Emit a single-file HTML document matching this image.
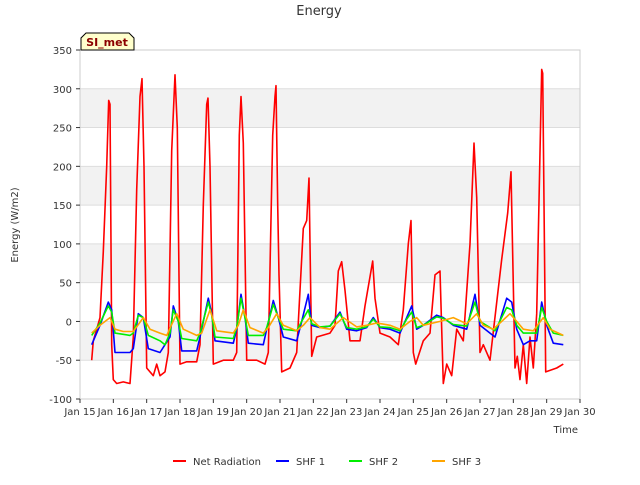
<!DOCTYPE html>
<html><head><meta charset="utf-8"><style>
body{margin:0;background:#fff;font-family:"Liberation Sans","DejaVu Sans",sans-serif}
svg text{font-family:"DejaVu Sans","Liberation Sans",sans-serif}
</style></head><body>
<svg id="chart" width="640" height="480" viewBox="0 0 640 480" xmlns="http://www.w3.org/2000/svg">
<rect x="0" y="0" width="640" height="480" fill="#fff"/>
<text x="319" y="15" text-anchor="middle" font-size="13" fill="#333">Energy</text>
<g id="bands"></g><g id="grid"></g>
<rect x="80" y="50" width="500" height="349" fill="none" stroke="#ccc"/>
<g id="axes"></g><g id="series"></g>
<text x="18" y="225" transform="rotate(-90 18 225)" text-anchor="middle" font-size="10" fill="#333">Energy (W/m2)</text>
<text x="578" y="433" text-anchor="end" font-size="10" fill="#333">Time</text>
<g>
<path d="M81 50 L81 38 L86 33 L129 33 L134 38 L134 50 Z" fill="#ffffcc" stroke="#000"/>
<text x="107" y="46" text-anchor="middle" font-size="11" font-weight="bold" fill="#8b0000">SI_met</text></g>
<g id="legend"></g>
</svg>
<script>
const yTicks=[-100,-50,0,50,100,150,200,250,300,350];
const xTickLabels=["Jan 15","Jan 16","Jan 17","Jan 18","Jan 19","Jan 20","Jan 21","Jan 22","Jan 23","Jan 24","Jan 25","Jan 26","Jan 27","Jan 28","Jan 29","Jan 30"];
const netT=[0.35,0.4,0.5,0.6,0.7,0.8,0.86,0.9,0.95,1.0,1.1,1.3,1.5,1.6,1.7,1.8,1.86,1.92,2.0,2.2,2.3,2.4,2.55,2.65,2.75,2.85,2.92,3.0,3.2,3.5,3.6,3.7,3.8,3.84,3.9,4.0,4.3,4.6,4.7,4.78,4.83,4.9,5.0,5.3,5.55,5.65,5.78,5.85,5.88,5.93,5.97,6.05,6.3,6.5,6.7,6.8,6.87,6.95,7.1,7.5,7.65,7.75,7.85,7.95,8.1,8.4,8.55,8.78,8.85,9.0,9.3,9.55,9.7,9.85,9.93,10.0,10.07,10.3,10.5,10.65,10.8,10.9,11.0,11.15,11.3,11.5,11.7,11.82,11.9,12.0,12.1,12.3,12.65,12.83,12.93,13.05,13.12,13.2,13.3,13.4,13.5,13.6,13.7,13.85,13.88,13.97,14.3,14.5];
const netV=[-50,-25,-10,5,90,200,285,280,-30,-75,-80,-78,-80,-20,170,290,313,200,-60,-70,-55,-70,-65,-40,220,318,250,-55,-52,-52,-30,150,280,288,200,-55,-50,-50,-40,240,290,230,-50,-50,-55,-40,240,290,304,150,60,-65,-60,-40,120,130,185,-45,-20,-15,-5,65,77,40,-25,-25,20,78,30,-15,-20,-30,15,100,130,-40,-55,-25,-15,60,65,-80,-55,-70,-10,-25,100,230,160,-40,-30,-50,80,140,193,-60,-45,-75,-30,-80,-20,-60,10,325,320,-65,-60,-55];
const shf1T=[0.35,0.6,0.85,0.95,1.05,1.5,1.6,1.75,1.9,2.05,2.4,2.55,2.7,2.8,2.95,3.05,3.5,3.6,3.85,3.95,4.05,4.6,4.7,4.83,4.95,5.05,5.5,5.6,5.8,5.95,6.1,6.5,6.65,6.85,6.95,7.2,7.5,7.8,8.0,8.3,8.6,8.8,9.0,9.3,9.6,9.8,9.95,10.1,10.3,10.7,10.9,11.2,11.6,11.85,12.0,12.3,12.45,12.8,12.95,13.1,13.3,13.5,13.7,13.85,14.0,14.2,14.5];
const shf1V=[-30,-5,25,15,-40,-40,-35,10,5,-35,-40,-30,-20,20,0,-38,-38,-20,30,10,-25,-28,-10,35,5,-28,-30,-10,27,5,-20,-25,0,35,-5,-8,-6,12,-10,-12,-8,5,-8,-10,-15,5,20,-10,-5,8,5,-5,-10,35,-5,-15,-20,30,25,-10,-30,-25,-25,25,-5,-28,-30];
const shf2T=[0.35,0.6,0.85,0.95,1.05,1.5,1.6,1.75,1.9,2.05,2.4,2.55,2.7,2.8,2.95,3.05,3.5,3.6,3.85,3.95,4.05,4.6,4.7,4.83,4.95,5.05,5.5,5.6,5.8,5.95,6.1,6.5,6.65,6.85,6.95,7.2,7.5,7.8,8.0,8.3,8.6,8.8,9.0,9.3,9.6,9.8,9.95,10.1,10.3,10.7,10.9,11.2,11.6,11.85,12.0,12.3,12.45,12.8,12.95,13.1,13.3,13.5,13.7,13.85,14.0,14.2,14.5];
const shf2V=[-18,-2,20,12,-15,-18,-15,8,5,-18,-25,-30,-15,15,0,-22,-25,-15,25,8,-20,-22,-8,30,5,-18,-18,-8,22,5,-10,-12,0,15,-3,-7,-6,10,-8,-10,-7,3,-7,-8,-12,3,12,-8,-5,6,4,-4,-6,25,0,-8,-12,18,15,-5,-15,-15,-15,18,0,-15,-18];
const shf3T=[0.35,0.6,0.9,1.05,1.3,1.6,1.9,2.1,2.4,2.6,2.9,3.1,3.5,3.65,3.9,4.1,4.6,4.75,4.9,5.1,5.5,5.65,5.9,6.1,6.5,6.7,6.9,7.2,7.5,7.9,8.3,8.6,8.9,9.3,9.6,9.9,10.1,10.3,10.8,11.2,11.6,11.9,12.1,12.4,12.9,13.1,13.3,13.6,13.9,14.1,14.5];
const shf3V=[-15,-5,5,-10,-13,-13,5,-10,-15,-18,10,-10,-18,-15,15,-12,-15,-5,15,-8,-15,-8,10,-5,-12,-5,5,-8,-10,5,-7,-5,-2,-5,-10,0,5,-5,0,5,-3,10,-5,-10,10,0,-10,-12,5,-10,-18];
const X0=80,X1=580,Y0=399,Y1=50;
const xs=t=>X0+(t/15)*(X1-X0);
const ys=v=>Y0-(v+100)/450*(Y0-Y1);
const NS="http://www.w3.org/2000/svg";
function mk(tag,attrs,parent){const e=document.createElementNS(NS,tag);for(const k in attrs)e.setAttribute(k,attrs[k]);parent.appendChild(e);return e;}
const bands=document.getElementById('bands'),grid=document.getElementById('grid'),axes=document.getElementById('axes');
for(let i=0;i<yTicks.length-1;i++){
  if(i%2===1){const b=mk('rect',{x:X0,y:ys(yTicks[i+1]),width:X1-X0,height:ys(yTicks[i])-ys(yTicks[i+1]),fill:'#f2f2f2'},bands);
  
  }
}
yTicks.forEach(v=>{
  const l=mk('line',{x1:X0,x2:X1,y1:ys(v),y2:ys(v),stroke:'#ddd'},grid);
  
  
  const tk=mk('line',{x1:X0-4,x2:X0,y1:ys(v),y2:ys(v),stroke:'#333'},axes);
  
  
  const t=mk('text',{x:X0-8,y:ys(v)+4,'text-anchor':'end','font-size':10,fill:'#333'},axes);
  t.textContent=v;
  
  
});
xTickLabels.forEach((s,i)=>{
  const tk=mk('line',{x1:xs(i),x2:xs(i),y1:Y0,y2:Y0+4,stroke:'#333'},axes);
  
  
  const t=mk('text',{x:xs(i),y:Y0+16,'text-anchor':'middle','font-size':10,fill:'#333'},axes);
  t.textContent=s;
  
  
});
const series=[["Net Radiation",netT,netV,"#ff0000","net-radiation-line"],["SHF 1",shf1T,shf1V,"#0000ff","shf1-line"],["SHF 2",shf2T,shf2V,"#00ee00","shf2-line"],["SHF 3",shf3T,shf3V,"#ffa500","shf3-line"]];
const sg=document.getElementById('series');
series.forEach(s=>{
  const d=s[1].map((t,i)=>(i?'L':'M')+xs(t).toFixed(1)+' '+ys(s[2][i]).toFixed(1)).join(' ');
  const p=mk('path',{d:d,fill:'none',stroke:s[3],'stroke-width':1.6,'stroke-linejoin':'round'},sg);
  
  
});
const lg=document.getElementById('legend');
const lx=[173,276,349,432];
series.forEach((s,i)=>{
  const g=mk('g',{},lg);
  
  
  mk('line',{x1:lx[i],x2:lx[i]+13,y1:461,y2:461,stroke:s[3],'stroke-width':2},g);
  const t=mk('text',{x:lx[i]+20,y:465,'font-size':10,fill:'#333'},g);
  t.textContent=s[0];
});
</script>
</body></html>
